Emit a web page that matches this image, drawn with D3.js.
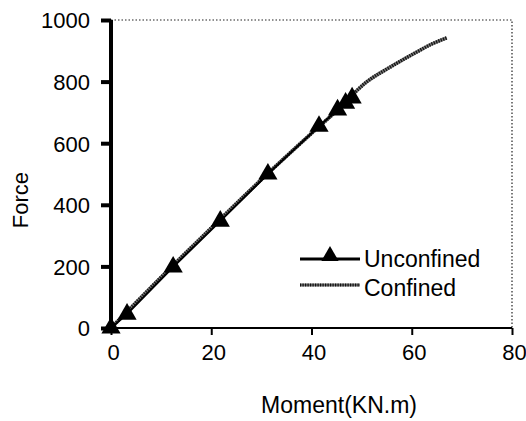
<!DOCTYPE html>
<html><head><meta charset="utf-8">
<script src="https://cdn.jsdelivr.net/npm/d3@7"></script>
<style>body{margin:0;background:#fff}svg{display:block}text{font-family:"Liberation Sans",Arial,sans-serif}</style>
</head><body>
<svg id="c" width="526" height="421"></svg>
<script>
const xTicks = [0, 20, 40, 60, 80];
const yTicks = [0, 200, 400, 600, 800, 1000];
const unconfinedX = [0, 3.2, 12.4, 21.8, 31.3, 41.5, 45.2, 46.8, 48.1];
const unconfinedY = [0, 45, 198, 347, 500, 655, 708, 730, 747];
const confinedX = [0, 10, 20, 30, 40, 45, 51, 55.7, 61, 64, 67];
const confinedY = [0, 165, 325, 482, 632, 705, 799, 847, 896, 922, 942];
const seriesNames = ["Unconfined", "Confined"];
const xTitle = "Moment(KN.m)";
const yTitle = "Force";

const FONT = "Liberation Sans, Arial, sans-serif";
const svg = d3.select("#c");
const x = d3.scaleLinear().domain([0, 80]).range([111, 512]);
const y = d3.scaleLinear().domain([0, 1000]).range([328, 20]);

// dotted frame top & right
svg.append("path")
  .attr("d", `M${x(0)},${y(1000)}H${x(80)}V${y(0)}`)
  .attr("fill", "none").attr("stroke", "#222").attr("stroke-width", 1.2)
  .attr("stroke-dasharray", "1.5,2");

// x axis
const xa = svg.append("g").attr("transform", `translate(0,${y(0)})`)
  .call(d3.axisBottom(x).tickValues(xTicks).tickSize(7).tickFormat(d3.format("d")));
xa.select(".domain").attr("stroke", "#000").attr("stroke-width", 2).attr("d", `M${x(0)},0H${x(80)}`);
xa.selectAll(".tick line").attr("stroke", "#000").attr("stroke-width", 2);
xa.selectAll("text").attr("font-size", 22).attr("fill", "#000").attr("font-family", FONT)
  .attr("y", 32).attr("dy", 0).attr("dx", 2);

// y axis
const ya = svg.append("g").attr("transform", `translate(${x(0)},0)`)
  .call(d3.axisLeft(y).tickValues(yTicks).tickSize(10).tickFormat(d3.format("d")));
ya.select(".domain").attr("stroke", "#000").attr("stroke-width", 4).attr("d", `M0,${y(1000)}V${y(0)}`);
ya.selectAll(".tick line").attr("stroke", "#000").attr("stroke-width", 4);
ya.selectAll("text").attr("font-size", 22).attr("fill", "#000").attr("font-family", FONT)
  .attr("x", -21).attr("dy", "0.36em");

// titles
svg.append("text").attr("x", 339).attr("y", 413).attr("text-anchor", "middle")
  .attr("font-size", 23).text(xTitle);
svg.append("text").attr("transform", `translate(28,200) rotate(-90)`).attr("text-anchor", "middle")
  .attr("font-size", 22).text(yTitle);

const line = d3.line().x(d => x(d[0])).y(d => y(d[1])).curve(d3.curveMonotoneX);
const conf = confinedX.map((v, i) => [v, confinedY[i]]);
const unc = unconfinedX.map((v, i) => [v, unconfinedY[i]]);

// confined line (textured)
svg.append("path").datum(conf).attr("d", line).attr("fill", "none")
  .attr("stroke", "#777").attr("stroke-width", 3.5);
svg.append("path").datum(conf).attr("d", line).attr("fill", "none")
  .attr("stroke", "#111").attr("stroke-width", 3.5).attr("stroke-dasharray", "1.2,1.3");

// unconfined line
svg.append("path").datum(unc).attr("d", d3.line().x(d => x(d[0])).y(d => y(d[1])))
  .attr("fill", "none").attr("stroke", "#000").attr("stroke-width", 2);

const tri = d3.symbol().type(d3.symbolTriangle).size(160);
svg.selectAll(".m").data(unc).join("path").attr("class", "m")
  .attr("d", tri).attr("transform", d => `translate(${x(d[0])},${y(d[1])})`).attr("fill", "#000");

// legend
const lg = svg.append("g");
lg.append("line").attr("x1", 300).attr("x2", 360).attr("y1", 259).attr("y2", 259)
  .attr("stroke", "#000").attr("stroke-width", 3);
lg.append("path").attr("d", d3.symbol().type(d3.symbolTriangle).size(130)).attr("transform", "translate(330,256)").attr("fill", "#000");
lg.append("text").attr("x", 364).attr("y", 267).attr("font-size", 23).text(seriesNames[0]);
lg.append("line").attr("x1", 300).attr("x2", 360).attr("y1", 285).attr("y2", 285)
  .attr("stroke", "#777").attr("stroke-width", 3);
lg.append("line").attr("x1", 300).attr("x2", 360).attr("y1", 285).attr("y2", 285)
  .attr("stroke", "#111").attr("stroke-width", 3).attr("stroke-dasharray", "1.2,1.3");
lg.append("text").attr("x", 364).attr("y", 296).attr("font-size", 23).text(seriesNames[1]);
</script>
</body></html>
